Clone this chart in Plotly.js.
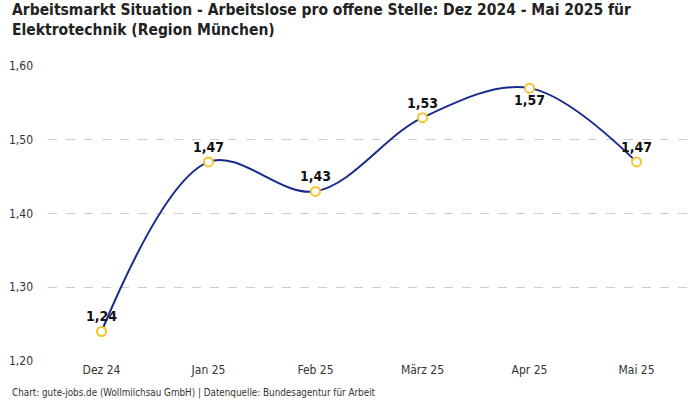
<!DOCTYPE html>
<html><head><meta charset="utf-8">
<script src="https://cdn.plot.ly/plotly-3.0.1.min.js"></script>
<style>html,body{margin:0;padding:0;background:#fff}#c{width:700px;height:400px}</style>
</head><body><div id="c"></div>
<script>
const categories = ["Dez 24","Jan 25","Feb 25","März 25","Apr 25","Mai 25"];
const values = [1.24,1.47,1.43,1.53,1.57,1.47];
const labelPositions = ["top center","top center","top center","top center","bottom center","top center"];
const yTicks = [1.2,1.3,1.4,1.5,1.6];
const titleText = "Arbeitsmarkt Situation - Arbeitslose pro offene Stelle: Dez 2024 - Mai 2025 für<br>Elektrotechnik (Region München)";
const footerText = "Chart: gute-jobs.de (Wollmilchsau GmbH) | Datenquelle: Bundesagentur für Arbeit";
const FONT = "'DejaVu Sans Condensed','Liberation Sans Narrow',Roboto,sans-serif";

Plotly.newPlot('c', [{
  x: categories, y: values, type: 'scatter', mode: 'lines+markers+text',
  line: {shape: 'spline', smoothing: 1, color: '#1a2a8c', width: 2},
  marker: {symbol: 'circle', size: 9, color: '#ffffff', line: {color: '#f5c42c', width: 2}},
  text: values.map(v => v.toFixed(2).replace('.', ',')),
  textposition: labelPositions,
  textfont: {family: FONT, size: 14, color: '#111', weight: 'bold'},
  cliponaxis: false, hoverinfo: 'skip'
}], {
  width: 700, height: 400,
  separators: ',.',
  margin: {l: 48, r: 10, t: 66, b: 39},
  paper_bgcolor: '#fff', plot_bgcolor: '#fff',
  font: {family: FONT, size: 12, color: '#333'},
  showlegend: false,
  xaxis: {type: 'category', range: [-0.5, 5.5], showgrid: false, zeroline: false,
    showline: false, ticks: '', tickfont: {family: FONT, size: 12, color: '#333'}},
  yaxis: {range: [1.2, 1.6], tickvals: yTicks, tickformat: '.2f', showgrid: true,
    gridcolor: '#cccccc', griddash: 'dash', gridwidth: 1, zeroline: false, showline: false,
    ticks: '', ticklabelstandoff: 14, tickfont: {family: FONT, size: 12, color: '#333'}},
  annotations: [
    {text: titleText, xref: 'paper', yref: 'paper', x: -0.059, y: 1.226,
      xanchor: 'left', yanchor: 'top', align: 'left', showarrow: false,
      font: {family: FONT, size: 15.5, color: '#222', weight: 'bold'}},
    {text: footerText, xref: 'paper', yref: 'paper', x: -0.059, y: -0.082,
      xanchor: 'left', yanchor: 'top', showarrow: false,
      font: {family: FONT, size: 9.8, color: '#333'}}]
}, {displayModeBar: false, staticPlot: true});
</script></body></html>
